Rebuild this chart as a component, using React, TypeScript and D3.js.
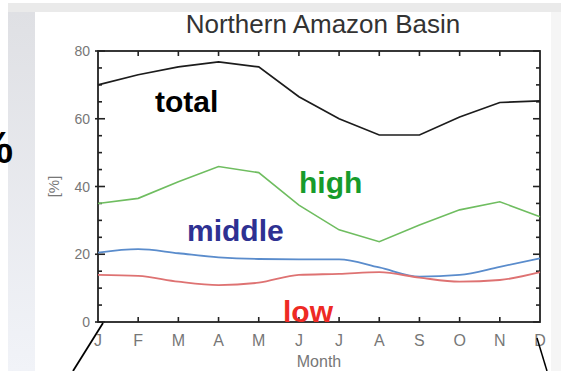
import React from 'react';
import * as d3 from 'd3';

// monthly fraction of cloud cover
const months = ['J', 'F', 'M', 'A', 'M', 'J', 'J', 'A', 'S', 'O', 'N', 'D'];
const total = [70, 73, 75.3, 76.8, 75.3, 66.5, 60, 55.2, 55.2, 60.5, 64.8, 65.3];
const high = [35, 36.5, 41.4, 45.9, 44.1, 34.5, 27.2, 23.7, 28.6, 33.1, 35.5, 31.1];
const middle = [20.5, 21.5, 20.3, 19.1, 18.6, 18.5, 18.5, 16.1, 13.4, 13.9, 16.3, 18.8];
const low = [13.9, 13.6, 11.9, 10.9, 11.6, 13.9, 14.2, 14.7, 13.1, 11.9, 12.4, 14.7];
const yTickLabels = [0, 20, 40, 60, 80];

const W = 561;
const H = 371;
const plot = { left: 98, right: 540, top: 51, bottom: 322 };
const font = 'Liberation Sans, Arial, sans-serif';

const App = () => {
  // scales
  const x = d3.scaleLinear().domain([0, months.length - 1]).range([plot.left, plot.right]);
  const y = d3.scaleLinear().domain([0, 80]).range([plot.bottom, plot.top]);

  const straight = d3
    .line<number>()
    .x((d, i) => x(i))
    .y((d) => y(d));

  const smooth = d3
    .line<number>()
    .x((d, i) => x(i))
    .y((d) => y(d))
    .curve(d3.curveMonotoneX);

  const minorTicks = y.ticks(16);

  return (
    <svg
      width={W}
      height={H}
      style={{ position: 'absolute', left: 0, top: 0, background: '#fff' }}
    >
      <defs>
        <linearGradient id="strip" x1="0" y1="0" x2="0" y2="1">
          <stop offset="0" stopColor="#dfe0e4" />
          <stop offset="1" stopColor="#f1f3f8" />
        </linearGradient>
      </defs>

      {/* slide background bits */}
      <rect x={8} y={3} width={W - 8} height={9} fill="#eaeaea" />
      <rect x={8} y={12} width={27} height={H - 12} fill="url(#strip)" />
      <rect x={551} y={12} width={10} height={H - 12} fill="#f5f5f5" />
      <text x={13} y={163} textAnchor="end" fontFamily={font} fontWeight="bold" fontSize={44} fill="#000">
        %
      </text>

      {/* title */}
      <text x={(plot.left + plot.right) / 2 + 4} y={33} textAnchor="middle" fontFamily={font} fontSize={26} fill="#333">
        Northern Amazon Basin
      </text>

      {/* frame */}
      <rect
        x={plot.left}
        y={plot.top}
        width={plot.right - plot.left}
        height={plot.bottom - plot.top}
        fill="none"
        stroke="#222"
        strokeWidth={1.8}
      />

      {/* y ticks, left and right, inward */}
      {minorTicks.map((t) => {
        const major = t % 20 === 0;
        const len = major ? 7 : 4;
        return (
          <g key={'yt' + t} stroke="#222" strokeWidth={1.6}>
            <line x1={plot.left - (major ? 3 : 0)} x2={plot.left + len} y1={y(t)} y2={y(t)} />
            <line x1={plot.right - len} x2={plot.right} y1={y(t)} y2={y(t)} />
          </g>
        );
      })}
      {yTickLabels.map((t) => (
        <text key={'yl' + t} x={90} y={y(t) + 5} textAnchor="end" fontFamily={font} fontSize={14} fill="#777">
          {t}
        </text>
      ))}

      {/* x ticks, top and bottom, inward */}
      {months.map((m, i) =>
        i > 0 && i < months.length - 1 ? (
          <g key={'xt' + i} stroke="#222" strokeWidth={1.6}>
            <line x1={x(i)} x2={x(i)} y1={plot.top} y2={plot.top + 5} />
            <line x1={x(i)} x2={x(i)} y1={plot.bottom - 5} y2={plot.bottom} />
          </g>
        ) : null
      )}
      {months.map((m, i) => (
        <text key={'xl' + i} x={x(i)} y={346} textAnchor="middle" fontFamily={font} fontSize={16} fill="#777">
          {m}
        </text>
      ))}

      <text x={(plot.left + plot.right) / 2} y={367} textAnchor="middle" fontFamily={font} fontSize={16} fill="#777">
        Month
      </text>
      <text
        transform={`translate(59, ${y(40)}) rotate(-90)`}
        textAnchor="middle"
        fontFamily={font}
        fontSize={15}
        fill="#777"
      >
        [%]
      </text>

      {/* series */}
      <path d={straight(total) || ''} fill="none" stroke="#1c1c1c" strokeWidth={1.7} />
      <path d={straight(high) || ''} fill="none" stroke="#6fbd60" strokeWidth={1.6} />
      <path d={smooth(middle) || ''} fill="none" stroke="#5a8ccc" strokeWidth={1.8} />
      <path d={smooth(low) || ''} fill="none" stroke="#de7272" strokeWidth={1.8} />

      {/* series names */}
      <text x={155} y={112} fontFamily={font} fontWeight="bold" fontSize={30} fill="#000">
        total
      </text>
      <text x={299} y={193} fontFamily={font} fontWeight="bold" fontSize={30} fill="#179b2b">
        high
      </text>
      <text x={187} y={241} fontFamily={font} fontWeight="bold" fontSize={30} fill="#2e3192">
        middle
      </text>
      <text x={283} y={322} fontFamily={font} fontWeight="bold" fontSize={30} fill="#ee2a24">
        low
      </text>

      {/* pointer lines off the slide */}
      <line x1={103} y1={323} x2={73} y2={371} stroke="#000" strokeWidth={1.8} />
      <line x1={537} y1={338} x2={547} y2={371} stroke="#000" strokeWidth={1.5} />
    </svg>
  );
};

export default App;
